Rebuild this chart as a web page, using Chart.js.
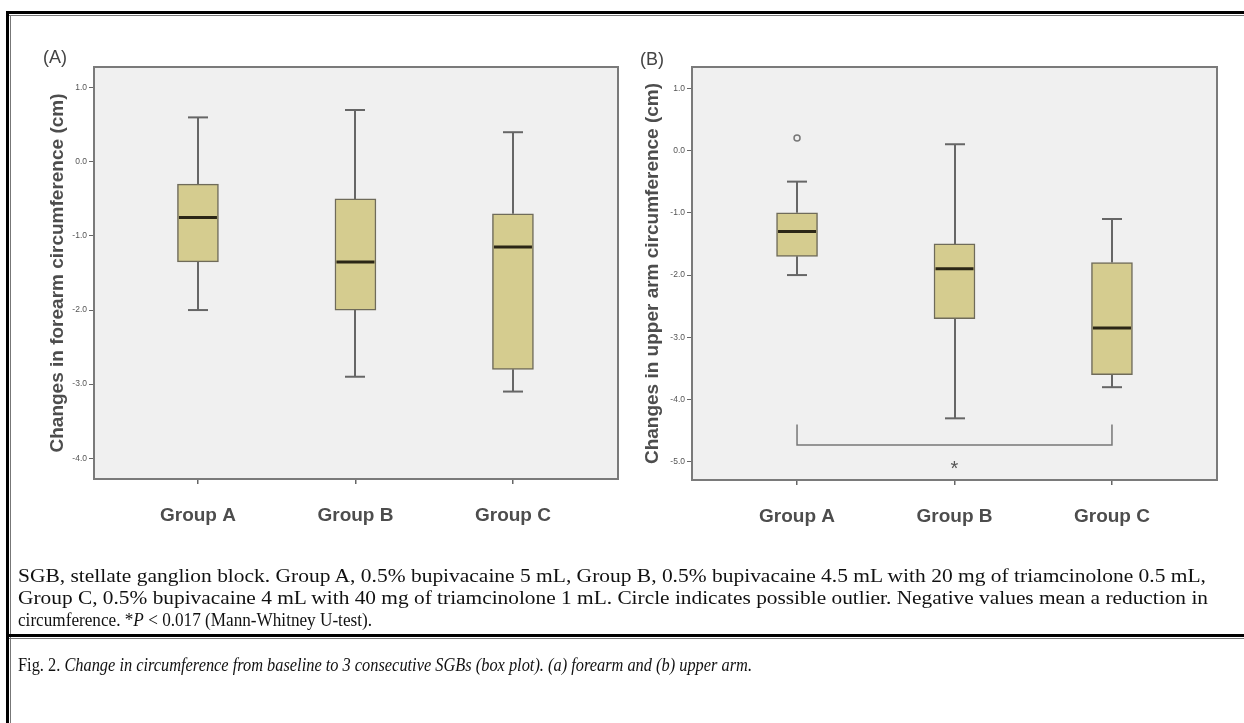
<!DOCTYPE html>
<html><head><meta charset="utf-8">
<script src="https://cdn.jsdelivr.net/npm/chart.js@4.4.1/dist/chart.umd.min.js"></script>
<style>
html,body{margin:0;padding:0;background:#fff;width:1244px;height:723px;overflow:hidden;position:relative;}
.abs{position:absolute;}
.panelLbl{font-family:"Liberation Sans",Arial,sans-serif;font-size:18px;color:#444;line-height:22px;}
svg text{font-family:"Liberation Serif","Times New Roman",serif;font-size:18px;fill:#111;}
</style></head>
<body>
<div class="abs" style="left:6px;top:11px;width:1250px;height:720px;border-top:3px solid #000;border-left:3px solid #000;"></div>
<div class="abs" style="left:9px;top:15px;width:1250px;height:1px;background:#777;"></div>
<div class="abs" style="left:10px;top:15px;width:1px;height:720px;background:#777;"></div>
<div class="abs" style="left:6px;top:634px;width:1250px;height:3px;background:#000;"></div>
<div class="abs" style="left:9px;top:638px;width:1250px;height:1px;background:#777;"></div>

<canvas id="cA" class="abs" width="620" height="545" style="left:0;top:0;"></canvas>
<canvas id="cB" class="abs" width="624" height="545" style="left:620px;top:0;"></canvas>
<div class="abs panelLbl" style="left:43px;top:46px;">(A)</div>
<div class="abs panelLbl" style="left:640px;top:48px;">(B)</div>

<svg class="abs" style="left:0;top:0;" width="1244" height="723">
  <text x="18" y="582" textLength="1188" lengthAdjust="spacingAndGlyphs">SGB, stellate ganglion block. Group A, 0.5% bupivacaine 5 mL, Group B, 0.5% bupivacaine 4.5 mL with 20 mg of triamcinolone 0.5 mL,</text>
  <text x="18" y="604" textLength="1190" lengthAdjust="spacingAndGlyphs">Group C, 0.5% bupivacaine 4 mL with 40 mg of triamcinolone 1 mL. Circle indicates possible outlier. Negative values mean a reduction in</text>
  <text x="18" y="626" textLength="354" lengthAdjust="spacingAndGlyphs">circumference. *<tspan font-style="italic">P</tspan> &lt; 0.017 (Mann-Whitney U-test).</text>
  <text x="18" y="671" textLength="734" lengthAdjust="spacingAndGlyphs">Fig. 2. <tspan font-style="italic">Change in circumference from baseline to 3 consecutive SGBs (box plot). (a) forearm and (b) upper arm.</tspan></text>
</svg>

<script>
// ---- data ----
const categories = ['Group A', 'Group B', 'Group C'];
const positions = [1, 2, 3];
// (A) forearm
const forearmMin    = [-2.0, -2.9, -3.1];
const forearmQ1     = [-1.35, -2.0, -2.8];
const forearmMedian = [-0.75, -1.35, -1.15];
const forearmQ3     = [-0.3, -0.5, -0.7];
const forearmMax    = [0.6, 0.7, 0.4];
const forearmOutliers = [];
// (B) upper arm
const upperMin    = [-2.0, -4.3, -3.8];
const upperQ1     = [-1.7, -2.7, -3.6];
const upperMedian = [-1.3, -1.9, -2.85];
const upperQ3     = [-1.0, -1.5, -1.8];
const upperMax    = [-0.5, 0.1, -1.1];
const upperOutliers = [{x: 1, y: 0.2}];
// ticks
const yTicksA = [1, 0, -1, -2, -3, -4];
const yTicksB = [1, 0, -1, -2, -3, -4, -5];
// significance bracket (B): Group A vs Group C
const bracketFrom = 1, bracketTo = 3, bracketY = -4.73, bracketEndY = -4.4;
const starX = 2, starY = -5.05, starText = '*';

const boxPlugin = {
  id: 'boxExtras',
  beforeDraw(chart) {
    const {ctx, chartArea: a} = chart;
    ctx.save(); ctx.fillStyle = '#f0f0f0';
    ctx.fillRect(a.left, a.top, a.right - a.left, a.bottom - a.top); ctx.restore();
  },
  beforeDatasetsDraw(chart, args, o) {
    const {ctx, scales: {x, y}} = chart;
    ctx.save(); ctx.strokeStyle = '#666'; ctx.lineWidth = 2;
    const ln = (x1, y1, x2, y2) => { ctx.beginPath(); ctx.moveTo(x1, y1); ctx.lineTo(x2, y2); ctx.stroke(); };
    o.pos.forEach((p, i) => {
      const px = Math.round(x.getPixelForValue(p));
      const yMax = y.getPixelForValue(o.max[i]), yMin = y.getPixelForValue(o.min[i]);
      ln(px, y.getPixelForValue(o.q3[i]), px, yMax);
      ln(px - 10, yMax, px + 10, yMax);
      ln(px, y.getPixelForValue(o.q1[i]), px, yMin);
      ln(px - 10, yMin, px + 10, yMin);
    });
    ctx.restore();
  },
  afterDatasetsDraw(chart, args, o) {
    const {ctx, scales: {x, y}} = chart;
    ctx.save();
    ctx.strokeStyle = '#2b2616'; ctx.lineWidth = 3;
    o.pos.forEach((p, i) => {
      const px = x.getPixelForValue(p), py = y.getPixelForValue(o.med[i]);
      ctx.beginPath(); ctx.moveTo(px - 19, py); ctx.lineTo(px + 19, py); ctx.stroke();
    });
    ctx.strokeStyle = '#777'; ctx.lineWidth = 1.5;
    o.out.forEach(pt => {
      ctx.beginPath(); ctx.arc(x.getPixelForValue(pt.x), y.getPixelForValue(pt.y), 3, 0, Math.PI * 2); ctx.stroke();
    });
    if (o.bracket) {
      const b = o.bracket;
      const x1 = x.getPixelForValue(b.from), x2 = x.getPixelForValue(b.to);
      const yb = y.getPixelForValue(b.y), ye = y.getPixelForValue(b.end);
      ctx.strokeStyle = '#777'; ctx.lineWidth = 1.5;
      ctx.beginPath(); ctx.moveTo(x1, ye); ctx.lineTo(x1, yb); ctx.lineTo(x2, yb); ctx.lineTo(x2, ye); ctx.stroke();
      ctx.fillStyle = '#555'; ctx.font = '20px "Liberation Sans", Arial, sans-serif';
      ctx.textAlign = 'center'; ctx.textBaseline = 'alphabetic';
      ctx.fillText(b.star, x.getPixelForValue(b.sx), y.getPixelForValue(b.sy) + 10);
    }
    ctx.restore();
  },
  afterDraw(chart) {
    const {ctx, chartArea: a} = chart;
    ctx.save(); ctx.strokeStyle = '#7a7a7a'; ctx.lineWidth = 2;
    ctx.strokeRect(a.left, a.top, a.right - a.left, a.bottom - a.top); ctx.restore();
  }
};

function makeChart(id, cfg) {
  const d = positions.map((p, i) => ({x: p, y: [cfg.q1[i], cfg.q3[i]]}));
  return new Chart(document.getElementById(id), {
    type: 'bar',
    data: { datasets: [{ data: d, backgroundColor: '#d5cc8f', borderColor: '#6f6b5a', borderWidth: 1.5, borderSkipped: false, barThickness: 41 }] },
    options: {
      responsive: false, animation: false, devicePixelRatio: 1,
      layout: { padding: { top: 67, right: cfg.padRight, bottom: 0, left: 0 } },
      plugins: {
        legend: { display: false }, tooltip: { enabled: false },
        boxExtras: { pos: positions, min: cfg.min, q1: cfg.q1, med: cfg.med, q3: cfg.q3, max: cfg.max, out: cfg.out, bracket: cfg.bracket }
      },
      scales: {
        x: {
          type: 'linear', min: cfg.xMin, max: cfg.xMax, offset: false, border: { display: false },
          grid: { drawOnChartArea: false, offset: false, tickLength: 5, color: '#666', lineWidth: 1.5 },
          afterBuildTicks: s => { s.ticks = positions.map(v => ({value: v})); },
          afterFit: s => { s.height = 545 - cfg.bottom; },
          ticks: { padding: 20, color: '#4d4d4d', maxRotation: 0, autoSkip: false,
            font: { family: '"Liberation Sans", Arial, sans-serif', size: 19, weight: 'bold' },
            callback: (v) => categories[positions.indexOf(v)] }
        },
        y: {
          min: cfg.yMin, max: cfg.yMax, border: { display: false },
          grid: { drawOnChartArea: false, tickLength: 5, color: '#666', lineWidth: 1 },
          afterBuildTicks: s => { s.ticks = cfg.ticks.map(v => ({value: v})); },
          afterFit: s => { s.width = cfg.yWidth; },
          ticks: { padding: 2, color: '#555', font: { family: '"Liberation Sans", Arial, sans-serif', size: 8.5 },
            callback: v => Number(v).toFixed(1) },
          title: { display: true, text: cfg.title, color: '#4d4d4d', padding: { top: cfg.titlePad, bottom: 0 },
            font: { family: '"Liberation Sans", Arial, sans-serif', size: cfg.titleSize, weight: 'bold' } }
        }
      }
    },
    plugins: [boxPlugin]
  });
}

makeChart('cA', {
  q1: forearmQ1, q3: forearmQ3, min: forearmMin, max: forearmMax, med: forearmMedian, out: forearmOutliers, bracket: null,
  ticks: yTicksA, yMin: -4.28, yMax: 1.28, xMin: 0.34, xMax: 3.667,
  padRight: 2, bottom: 479, yWidth: 94, titlePad: 46, titleSize: 19,
  title: 'Changes in forearm circumference (cm)'
});
makeChart('cB', {
  q1: upperQ1, q3: upperQ3, min: upperMin, max: upperMax, med: upperMedian, out: upperOutliers,
  bracket: { from: bracketFrom, to: bracketTo, y: bracketY, end: bracketEndY, sx: starX, sy: starY, star: starText },
  ticks: yTicksB, yMin: -5.29, yMax: 1.34, xMin: 0.333, xMax: 3.667,
  padRight: 27, bottom: 480, yWidth: 72, titlePad: 21, titleSize: 19,
  title: 'Changes in upper arm circumference (cm)'
});
</script>
</body></html>
